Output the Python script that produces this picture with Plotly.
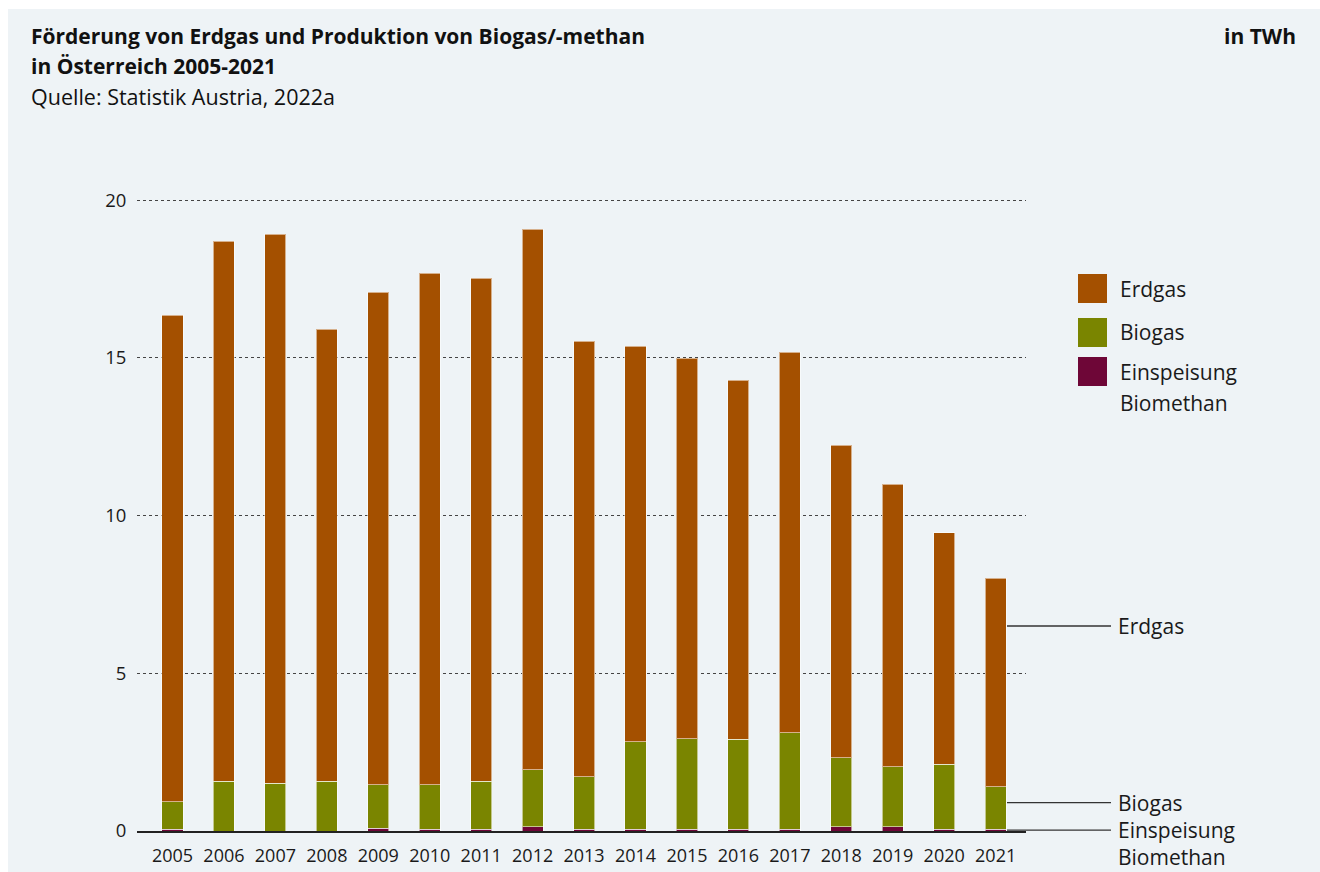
import plotly.graph_objects as go

years = [str(y) for y in range(2005, 2022)]
erdgas = [15.44, 17.13, 17.40, 14.33, 15.62, 16.23, 15.95, 17.14, 13.81,
          12.54, 12.07, 11.38, 12.07, 9.91, 8.97, 7.33, 6.62]
biogas = [0.87, 1.57, 1.52, 1.58, 1.38, 1.40, 1.52, 1.80, 1.66,
          2.77, 2.86, 2.85, 3.05, 2.19, 1.90, 2.06, 1.34]
biomethan = [0.05, 0.0, 0.0, 0.0, 0.08, 0.06, 0.06, 0.14, 0.06,
             0.06, 0.06, 0.06, 0.06, 0.13, 0.13, 0.06, 0.06]

series_names = ["Erdgas", "Biogas", "Einspeisung Biomethan"]
colors = {"Erdgas": "#A45000", "Biogas": "#7A8500", "Einspeisung Biomethan": "#6E0637"}

W, H = 1320, 872
L, R, T, B = 137, 1026, 198, 831
YMAX = 20.07
FONT = "Open Sans"
BG = "#EEF3F6"
TXT = "#1a1a1a"
LBL = 21


def px(x):
    return (x - L) / (R - L)


def py(y):
    return (B - y) / (B - T)


fig = go.Figure()
for name, vals in [("Einspeisung Biomethan", biomethan), ("Biogas", biogas), ("Erdgas", erdgas)]:
    fig.add_trace(go.Bar(
        x=years, y=vals, name=name,
        marker=dict(color=colors[name], line=dict(color="rgba(255,255,255,0.55)", width=1)),
        width=0.41, showlegend=False,
    ))

shapes = [
    dict(type="rect", xref="paper", yref="paper", x0=px(8), x1=px(1320), y0=py(9), y1=py(872),
         fillcolor=BG, line=dict(width=0), layer="below"),
]

legend_items = [("Erdgas", 274), ("Biogas", 318), ("Einspeisung Biomethan", 357)]
annotations = []
for name, top in legend_items:
    shapes.append(dict(type="rect", xref="paper", yref="paper", x0=px(1078), x1=px(1107),
                       y0=py(top + 29), y1=py(top), fillcolor=colors[name], line=dict(width=0)))
leg = [
    dict(text="Erdgas", x=px(1118), y=py(289)),
    dict(text="Biogas", x=px(1118), y=py(332)),
    dict(text="Einspeisung", x=px(1118), y=py(372)),
    dict(text="Biomethan", x=px(1118), y=py(403)),
]
for a in leg:
    a.update(xref="paper", yref="paper", xanchor="left", yanchor="middle", showarrow=False,
             font=dict(family=FONT, size=LBL, color=TXT))
annotations += leg

direct = [("Erdgas", 6.5), ("Biogas", 0.9), ("Einspeisung", 0.03)]
for text, yv in direct:
    shapes.append(dict(type="line", xref="paper", yref="y", x0=px(1007), x1=px(1111), y0=yv, y1=yv,
                       line=dict(color="#333333", width=1.3)))
    annotations.append(dict(text=text, xref="paper", yref="y", x=px(1116), y=yv, xanchor="left",
                            yanchor="middle", showarrow=False,
                            font=dict(family=FONT, size=LBL, color=TXT)))
annotations.append(dict(text="Biomethan", xref="paper", yref="paper", x=px(1116), y=py(857),
                        xanchor="left", yanchor="middle", showarrow=False,
                        font=dict(family=FONT, size=LBL, color=TXT)))

titles = [
    dict(text="<b>Förderung von Erdgas und Produktion von Biogas/-methan</b>", x=px(29), y=py(36)),
    dict(text="<b>in Österreich 2005-2021</b>", x=px(29), y=py(66)),
]
for a in titles:
    a.update(xref="paper", yref="paper", xanchor="left", yanchor="middle", showarrow=False,
             font=dict(family=FONT, size=21, color="#111111"))
annotations += titles
annotations.append(dict(text="Quelle: Statistik Austria, 2022a", xref="paper", yref="paper",
                        x=px(29), y=py(97), xanchor="left", yanchor="middle", showarrow=False,
                        font=dict(family=FONT, size=21.5, color="#111111")))
annotations.append(dict(text="<b>in TWh</b>", xref="paper", yref="paper", x=px(1298), y=py(36),
                        xanchor="right", yanchor="middle", showarrow=False,
                        font=dict(family=FONT, size=21, color="#111111")))

fig.update_layout(
    width=W, height=H,
    margin=dict(l=L, r=W - R, t=T, b=H - B, pad=0),
    paper_bgcolor="white", plot_bgcolor="rgba(0,0,0,0)",
    barmode="stack",
    font=dict(family=FONT, size=18, color=TXT),
    shapes=shapes, annotations=annotations,
    xaxis=dict(type="category", showgrid=False, showline=True, linecolor="#222222", linewidth=1.5,
               ticks="outside", ticklen=8, tickcolor="rgba(0,0,0,0)", tickfont=dict(size=18),
               range=[-0.69, 16.59], fixedrange=True, automargin=False),
    yaxis=dict(range=[0, YMAX], tickvals=[0, 5, 10, 15, 20], showgrid=True, gridcolor="#444444",
               griddash="dot", gridwidth=1, zeroline=False, showline=False,
               ticks="outside", ticklen=6, tickcolor="rgba(0,0,0,0)", tickfont=dict(size=18.5),
               fixedrange=True, automargin=False),
)

fig.write_html("out.html")
